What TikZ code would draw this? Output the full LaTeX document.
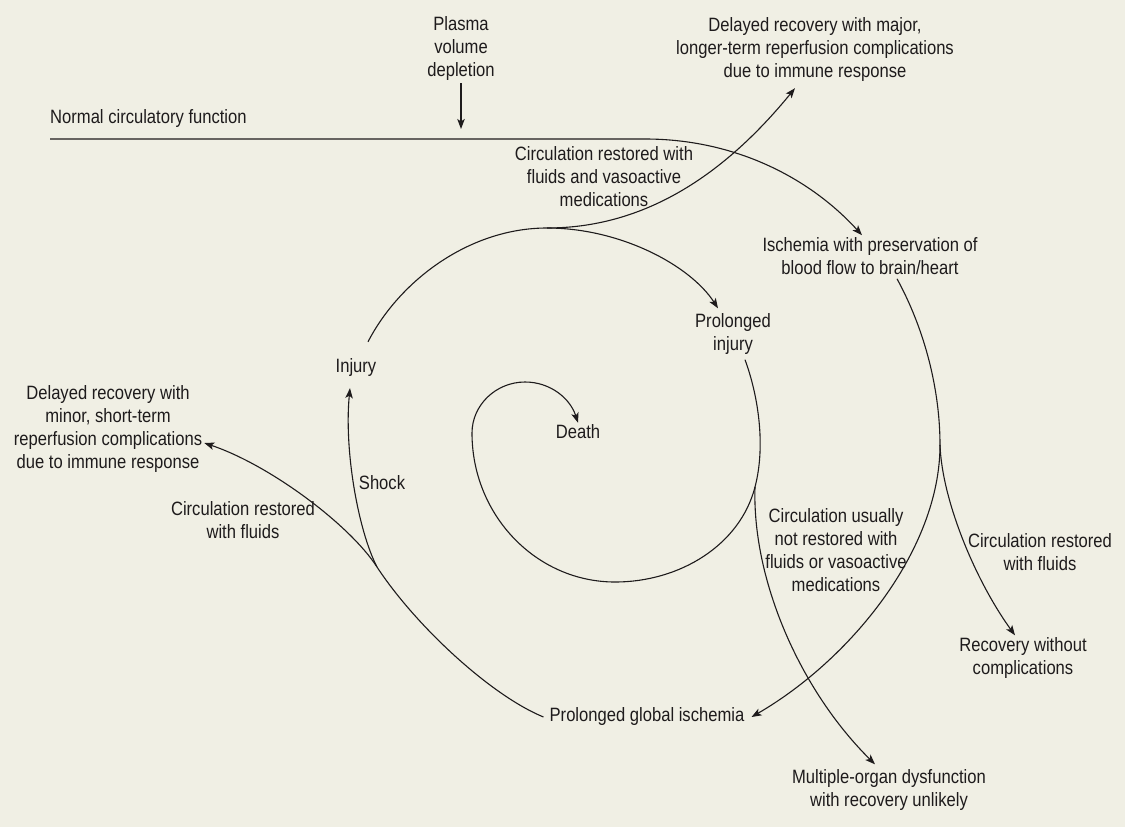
\documentclass[tikz,border=0pt]{standalone}
\usepackage{fontspec}
\setmainfont[FakeStretch=0.86]{Liberation Sans}
\usetikzlibrary{arrows.meta, positioning, calc}
\definecolor{paperBeige}{RGB}{240, 239, 228}
\definecolor{inkGray}{RGB}{30, 27, 28}

\begin{document}
\begin{tikzpicture}[
    x=1pt, y=-1pt,
    note/.style={align=center, text=inkGray, inner sep=2pt, font=\fontsize{19.3}{23}\selectfont},
    flow/.style={line width=1.1pt, draw=inkGray},
    arrow/.style={flow, -{Stealth[length=10pt, width=7.5pt, inset=2.5pt]}}
]
    \fill[paperBeige] (0,0) rectangle (1125,827);
    \useasboundingbox (0,0) rectangle (1125,827);

    % Nodes
    \coordinate (dep) at (461,129);
    \node[note, above=46pt of dep] (plasma) {Plasma\\volume\\depletion};
    \node[note, anchor=west] (normal) at (48,119) {Normal circulatory function};
    \node[note] (ischemia) at (870,256) {Ischemia with preservation of\\blood flow to brain/heart};
    \node[note] (major) at (815,50) {Delayed recovery with major,\\longer-term reperfusion complications\\due to immune response};
    \node[note] (restoredva) at (604,177) {Circulation restored with\\fluids and vasoactive\\medications};
    \node[note] (pinjury) at (733,334) {Prolonged\\injury};
    \node[note] (injury) at (356,368) {Injury};
    \node[note] (death) at (578,432) {Death};
    \node[note] (minor) at (108,429) {Delayed recovery with\\minor, short-term\\reperfusion complications\\due to immune response};
    \node[note] (shock) at (382,483) {Shock};
    \node[note] (restoredl) at (243,520) {Circulation restored\\with fluids};
    \node[note] (notrestored) at (836,550) {Circulation usually\\not restored with\\fluids or vasoactive\\medications};
    \node[note] (restoredr) at (1040,552) {Circulation restored\\with fluids};
    \node[note] (recovery) at (1023,658) {Recovery without\\complications};
    \node[note] (pgi) at (647,717) {Prolonged global ischemia};
    \node[note] (multi) at (889,790) {Multiple-organ dysfunction\\with recovery unlikely};

    % Forks
    \coordinate (nstart) at (50,139);
    \coordinate (nbend) at (645,139);
    \coordinate (top) at (547,228);
    \coordinate (rfork) at (940,445);
    \coordinate (lfork) at (377,567);
    \coordinate (ifork) at (755,487);

    % Links
    \draw[arrow] (plasma) -- (dep);
    \draw[arrow] (nstart) -- (nbend) .. controls (735,139) and (810,178) .. ([xshift=-8pt]ischemia.north);
    \draw[flow] ([xshift=27pt,yshift=-2pt]ischemia.south) .. controls (925,330) and (940,390) .. (rfork);
    \draw[arrow] (rfork) .. controls (940,550) and (850,660) .. ([xshift=5pt]pgi.east);
    \draw[arrow] (rfork) .. controls (942,500) and (975,580) .. ([xshift=-8pt]recovery.north);
    \draw[flow] ([xshift=-4pt]pgi.west) .. controls (490,695) and (415,625) .. (lfork);
    \draw[arrow] (lfork) .. controls (358,530) and (344,450) .. ([xshift=-6pt,yshift=-9pt]injury.south);
    \draw[arrow] (lfork) .. controls (350,525) and (270,465) .. ([yshift=-14pt]minor.east);
    \draw[flow] ([xshift=12pt,yshift=15pt]injury.north) .. controls (400,280) and (470,228) .. (top);
    \draw[arrow] (top) .. controls (620,228) and (690,265) .. ([xshift=-15pt,yshift=3pt]pinjury.north);
    \draw[arrow] (top) .. controls (640,228) and (720,180) .. ([xshift=-20pt,yshift=-4pt]major.south);
    \draw[flow] ([xshift=12pt,yshift=-3pt]pinjury.south) .. controls (758,395) and (766,445) .. (ifork);
    \draw[arrow] (ifork) .. controls (740,545) and (680,582) .. (615,582)
        .. controls (536,582) and (472,515) .. (472,433)
        .. controls (472,405) and (496,382) .. (525,382)
        .. controls (550,382) and (570,398) .. (death.north);
    \draw[arrow] (ifork) .. controls (752,580) and (800,690) .. ([xshift=-14pt,yshift=3pt]multi.north);
\end{tikzpicture}
\end{document}
